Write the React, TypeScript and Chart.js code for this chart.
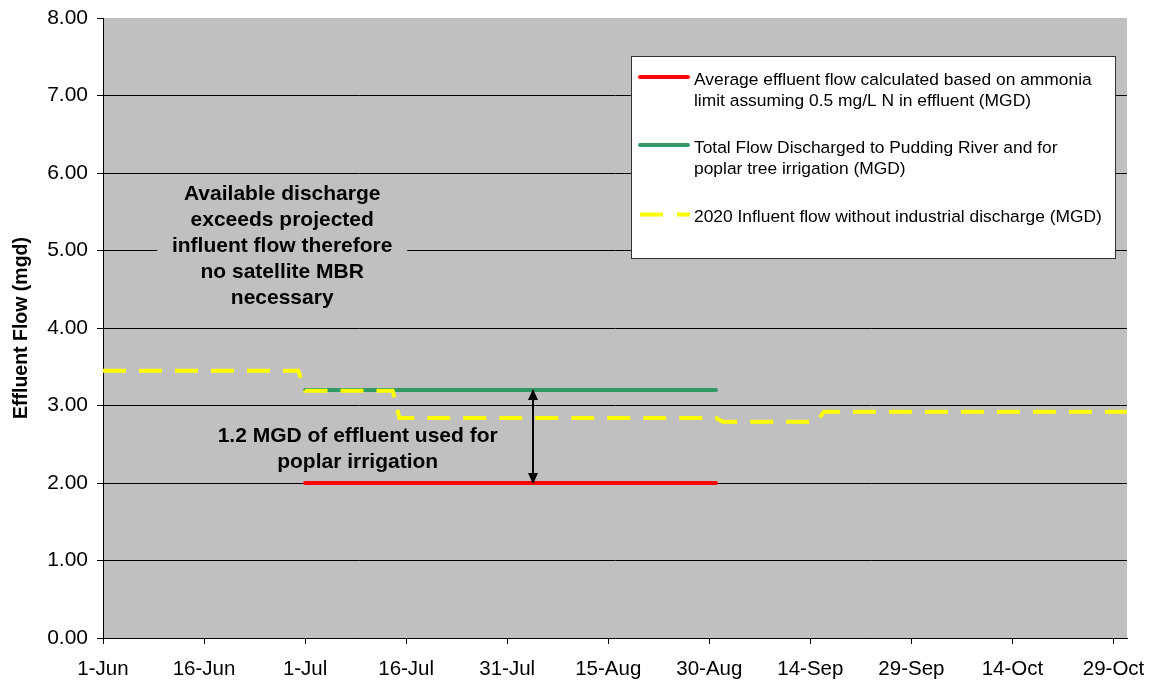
import { useEffect, useRef } from "react";
import { Chart, registerables } from "chart.js";

Chart.register(...registerables);

// ---- Data (x = days after 1-Jun) ----
const TICK_DAYS = [0, 15, 30, 45, 60, 75, 90, 105, 120, 135, 150];
const TICK_LABELS = ["1-Jun", "16-Jun", "1-Jul", "16-Jul", "31-Jul", "15-Aug", "30-Aug", "14-Sep", "29-Sep", "14-Oct", "29-Oct"];
const X_MIN = 0;
const X_MAX = 152;
const Y_TICKS = [0, 1, 2, 3, 4, 5, 6, 7, 8];

const AMMONIA_DAYS = [30, 91];
const AMMONIA_FLOW = [2.0, 2.0];

const DISCHARGE_DAYS = [30, 91];
const DISCHARGE_FLOW = [3.2, 3.2];

const INFLUENT_DAYS = [0, 29, 30, 43, 44, 91, 92, 106, 107, 152];
const INFLUENT_FLOW = [3.45, 3.45, 3.19, 3.19, 2.84, 2.84, 2.79, 2.79, 2.92, 2.92];

const ARROW_DAY = 63.8;
const ARROW_FROM = 2.0;
const ARROW_TO = 3.2;

const SERIES_NAMES = [
  ["Average effluent flow calculated based on ammonia", "limit assuming 0.5 mg/L N in effluent (MGD)"],
  ["Total Flow Discharged to Pudding River and for", "poplar tree irrigation (MGD)"],
  ["2020 Influent flow without industrial discharge (MGD)"],
];

const NOTE1_LINES = ["Available discharge", "exceeds projected", "influent flow therefore", "no satellite MBR", "necessary"];
const NOTE1_DAY = 26.6;
const NOTE1_FLOW = 5.06;
const NOTE2_LINES = ["1.2 MGD of effluent used for", "poplar irrigation"];
const NOTE2_DAY = 37.8;
const NOTE2_FLOW = 2.43;

const FONT = '"Liberation Sans", Arial, Helvetica, sans-serif';
const RED = "#ff0000";
const GREEN = "#339966";
const YELLOW = "#ffff00";
const PLOT_BG = "#c0c0c0";

const toXY = (xs: number[], ys: number[]) => xs.map((x, i) => ({ x, y: ys[i] }));

const decorPlugin = {
  id: "decor",
  beforeDraw(chart: any) {
    const { ctx, chartArea: a } = chart;
    ctx.save();
    ctx.fillStyle = "#ffffff";
    ctx.fillRect(0, 0, chart.width, chart.height);
    ctx.fillStyle = PLOT_BG;
    ctx.fillRect(a.left, a.top, a.right - a.left, a.bottom - a.top);
    ctx.restore();
  },
  afterDraw(chart: any) {
    const { ctx } = chart;
    const xs = chart.scales.x;
    const ys = chart.scales.y;
    ctx.save();

    // Arrow
    const ax = Math.round(xs.getPixelForValue(ARROW_DAY));
    const y1 = ys.getPixelForValue(ARROW_TO);
    const y2 = ys.getPixelForValue(ARROW_FROM);
    ctx.strokeStyle = "#000";
    ctx.fillStyle = "#000";
    ctx.lineWidth = 2;
    ctx.beginPath();
    ctx.moveTo(ax, y1 + 6);
    ctx.lineTo(ax, y2 - 6);
    ctx.stroke();
    ctx.beginPath();
    ctx.moveTo(ax, y1 - 1);
    ctx.lineTo(ax - 5, y1 + 10);
    ctx.lineTo(ax + 5, y1 + 10);
    ctx.closePath();
    ctx.fill();
    ctx.beginPath();
    ctx.moveTo(ax, y2 + 1);
    ctx.lineTo(ax - 5, y2 - 10);
    ctx.lineTo(ax + 5, y2 - 10);
    ctx.closePath();
    ctx.fill();

    // Note 1 (with background covering gridline)
    const lh = 26;
    const n1x = xs.getPixelForValue(NOTE1_DAY);
    const n1y = ys.getPixelForValue(NOTE1_FLOW);
    ctx.fillStyle = PLOT_BG;
    ctx.fillRect(n1x - 125, n1y - 68, 250, 136);
    ctx.fillStyle = "#000";
    ctx.font = `bold 21px ${FONT}`;
    ctx.textAlign = "center";
    ctx.textBaseline = "middle";
    NOTE1_LINES.forEach((t, i) => {
      ctx.fillText(t, n1x, n1y + (i - (NOTE1_LINES.length - 1) / 2) * lh);
    });

    // Note 2
    const n2x = xs.getPixelForValue(NOTE2_DAY);
    const n2y = ys.getPixelForValue(NOTE2_FLOW);
    NOTE2_LINES.forEach((t, i) => {
      ctx.fillText(t, n2x, n2y + (i - (NOTE2_LINES.length - 1) / 2) * lh);
    });

    // Legend
    const L = 631, T = 56, R = 1116, B = 259;
    ctx.fillStyle = "#ffffff";
    ctx.fillRect(L, T, R - L, B - T);
    ctx.strokeStyle = "#333";
    ctx.lineWidth = 1;
    ctx.strokeRect(L + 0.5, T + 0.5, R - L - 1, B - T - 1);
    const colors = [RED, GREEN, YELLOW];
    const rows = [77, 145, 214];
    ctx.font = `17.4px ${FONT}`;
    ctx.textAlign = "left";
    ctx.textBaseline = "middle";
    SERIES_NAMES.forEach((lines, i) => {
      const yy = rows[i];
      ctx.strokeStyle = colors[i];
      ctx.lineWidth = 4;
      if (i === 2) {
        ctx.lineCap = "butt";
        ctx.setLineDash([23, 14]);
        ctx.beginPath();
        ctx.moveTo(640, yy + 0.5);
        ctx.lineTo(690, yy + 0.5);
        ctx.stroke();
        ctx.setLineDash([]);
      } else {
        ctx.lineCap = "round";
        ctx.beginPath();
        ctx.moveTo(640, yy);
        ctx.lineTo(688, yy);
        ctx.stroke();
      }
      ctx.fillStyle = "#000";
      lines.forEach((t, j) => ctx.fillText(t, 694, yy + 3 + j * 21));
    });
    ctx.restore();
  },
};

export default function App() {
  const ref = useRef<HTMLCanvasElement | null>(null);
  useEffect(() => {
    if (!ref.current) return;
    const chart = new Chart(ref.current, {
      type: "line",
      data: {
        datasets: [
          {
            label: SERIES_NAMES[2].join(" "),
            data: toXY(INFLUENT_DAYS, INFLUENT_FLOW),
            borderColor: YELLOW,
            borderWidth: 4,
            borderDash: [23, 13],
            borderCapStyle: "butt",
            pointRadius: 0,
            tension: 0,
            order: 0,
          },
          {
            label: SERIES_NAMES[1].join(" "),
            data: toXY(DISCHARGE_DAYS, DISCHARGE_FLOW),
            borderColor: GREEN,
            borderWidth: 4,
            borderCapStyle: "round",
            pointRadius: 0,
            order: 1,
          },
          {
            label: SERIES_NAMES[0].join(" "),
            data: toXY(AMMONIA_DAYS, AMMONIA_FLOW),
            borderColor: RED,
            borderWidth: 4,
            borderCapStyle: "round",
            pointRadius: 0,
            order: 2,
          },
        ],
      },
      options: {
        animation: false,
        responsive: false,
        devicePixelRatio: 1,
        layout: { padding: { left: 0, right: 24, top: 18, bottom: 0 } },
        plugins: { legend: { display: false }, tooltip: { enabled: false } },
        scales: {
          x: {
            type: "linear",
            min: X_MIN,
            max: X_MAX,
            afterBuildTicks: (s: any) => {
              s.ticks = TICK_DAYS.map((v) => ({ value: v }));
            },
            afterFit: (s: any) => {
              s.height = 46;
              s.paddingLeft = 0;
              s.paddingRight = 0;
            },
            ticks: {
              autoSkip: false,
              maxRotation: 0,
              minRotation: 0,
              padding: 13,
              color: "#000",
              font: { family: FONT, size: 20.5 },
              callback: (v: any) => {
                const i = TICK_DAYS.indexOf(Number(v));
                return i >= 0 ? TICK_LABELS[i] : "";
              },
            },
            grid: { drawOnChartArea: false, drawTicks: true, tickLength: 6, color: "#000", lineWidth: 1 },
            border: { display: true, color: "#000", width: 1 },
          },
          y: {
            min: 0,
            max: 8,
            afterBuildTicks: (s: any) => {
              s.ticks = Y_TICKS.map((v) => ({ value: v }));
            },
            afterFit: (s: any) => {
              s.width = 103;
              s.paddingTop = 0;
              s.paddingBottom = 0;
            },
            ticks: {
              padding: 9,
              color: "#000",
              font: { family: FONT, size: 21 },
              callback: (v: any) => Number(v).toFixed(2),
            },
            grid: {
              tickLength: 6,
              lineWidth: 1,
              color: (c: any) => (c.tick && c.tick.value === 8 ? "rgba(0,0,0,0)" : "#000"),
              tickColor: "#000",
            },
            border: { display: true, color: "#000", width: 1 },
            title: {
              display: true,
              text: "Effluent Flow (mgd)",
              color: "#000",
              font: { family: FONT, size: 19.5, weight: "bold" },
              padding: { top: 10, bottom: 0 },
            },
          },
        },
      },
      plugins: [decorPlugin],
    } as any);
    return () => chart.destroy();
  }, []);
  return (
    <div style={{ position: "absolute", left: 0, top: 0, width: 1151, height: 684 }}>
      <canvas ref={ref} width={1151} height={684} />
    </div>
  );
}
